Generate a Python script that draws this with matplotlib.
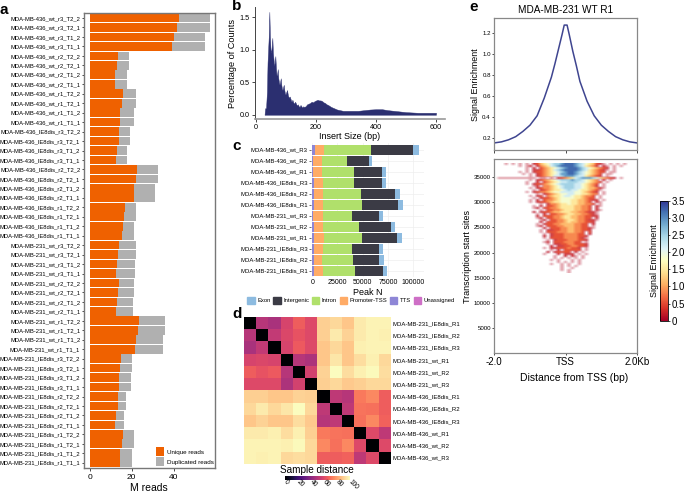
import numpy as np
import matplotlib
matplotlib.use('Agg')
import matplotlib.pyplot as plt
from matplotlib.patches import Patch

plt.rcParams['font.family'] = ['Liberation Sans', 'DejaVu Sans']
W, H = 685, 493

# ---- panel a
a_labels = []
for line, cond in [('436', 'wt'), ('436', 'IE8dis'), ('231', 'wt'), ('231', 'IE8dis')]:
    for rep in ['r3', 'r2', 'r1']:
        for t in ['T2_2', 'T2_1', 'T1_2', 'T1_1']:
            a_labels.append(f'MDA-MB-{line}_{cond}_{rep}_{t}')
unique_reads = [42.6, 41.5, 39.9, 39.4, 13.3, 13.0, 12.3, 12.2, 15.8, 15.3, 14.6, 14.4,
                14.1, 13.8, 13.0, 12.8, 22.6, 22.2, 21.0, 20.9, 16.9, 16.5, 15.8, 15.5,
                13.9, 13.6, 13.0, 12.7, 13.9, 13.6, 13.0, 12.7, 23.6, 22.8, 22.2, 21.5,
                15.0, 14.6, 14.2, 14.1, 13.6, 13.3, 12.7, 12.3, 15.8, 15.3, 14.7, 14.4]
total_reads = [57.0, 57.0, 54.7, 54.7, 18.8, 18.8, 17.9, 17.9, 22.2, 22.2, 21.0, 21.0,
               19.0, 19.0, 17.9, 17.9, 32.3, 32.3, 31.0, 31.0, 22.2, 22.2, 21.2, 21.2,
               22.2, 22.2, 21.5, 21.5, 21.0, 21.0, 20.6, 20.6, 36.0, 36.0, 35.1, 35.1,
               20.4, 20.4, 19.8, 19.8, 17.4, 17.4, 16.5, 16.5, 20.9, 20.9, 20.1, 20.1]

# ---- panel b
insert_x = [28, 30, 33, 36, 38, 40, 42, 44, 46, 48, 50, 52, 54, 56, 58, 60, 62, 64, 66, 68, 70, 72, 74, 76, 78,
            80, 82, 84, 86, 88, 90, 92, 94, 96, 98, 100, 103, 106, 109, 112, 115, 118, 121, 124, 127, 130,
            133, 136, 139, 142, 145, 148, 151, 154, 157, 160, 165, 170, 175, 180, 185, 190, 195, 200, 205,
            210, 215, 220, 225, 230, 235, 240, 250, 260, 270, 280, 290, 300, 320, 340, 360, 380, 400, 420,
            440, 460, 480, 500, 520, 540, 560, 580, 600]
insert_y = [0.0, 0.10, 0.10, 0.35, 0.80, 1.00, 1.20, 1.58, 1.20, 1.00, 0.95, 1.05, 1.18, 0.95, 0.85, 0.75, 0.80,
            0.90, 0.72, 0.60, 0.62, 0.70, 0.56, 0.50, 0.46, 0.50, 0.56, 0.46, 0.40, 0.38, 0.42, 0.46, 0.38, 0.33,
            0.31, 0.34, 0.38, 0.30, 0.26, 0.28, 0.24, 0.20, 0.23, 0.19, 0.17, 0.20, 0.17, 0.14, 0.16, 0.13, 0.12,
            0.15, 0.13, 0.11, 0.13, 0.12, 0.13, 0.16, 0.17, 0.18, 0.20, 0.19, 0.21, 0.22, 0.23, 0.22, 0.22, 0.21,
            0.19, 0.18, 0.16, 0.15, 0.12, 0.10, 0.08, 0.07, 0.06, 0.06, 0.06, 0.06, 0.07, 0.08, 0.085, 0.085,
            0.07, 0.06, 0.05, 0.04, 0.035, 0.03, 0.03, 0.03, 0.03]

# ---- panel c
c_labels = ['MDA-MB-436_wt_R3', 'MDA-MB-436_wt_R2', 'MDA-MB-436_wt_R1', 'MDA-MB-436_IE8dis_R3',
            'MDA-MB-436_IE8dis_R2', 'MDA-MB-436_IE8dis_R1', 'MDA-MB-231_wt_R3', 'MDA-MB-231_wt_R2',
            'MDA-MB-231_wt_R1', 'MDA-MB-231_IE8dis_R3', 'MDA-MB-231_IE8dis_R2', 'MDA-MB-231_IE8dis_R1']
c_unassigned = [150, 100, 100, 100, 100, 100, 100, 100, 100, 100, 100, 100]
c_tts = [2500, 1000, 1000, 1300, 1600, 1600, 1000, 1300, 2000, 1300, 1300, 1300]
c_promoter = [8950, 8500, 8800, 8900, 9200, 9200, 9200, 9500, 9150, 8900, 8500, 8900]
c_intron = [46400, 24500, 31100, 31100, 37400, 38700, 29400, 35400, 38350, 29400, 30500, 31700]
c_intergenic = [42300, 21900, 28200, 28100, 34100, 35400, 26200, 31800, 34100, 26500, 26100, 27800]
c_exon = [5300, 3200, 4000, 4000, 4600, 4700, 3900, 4300, 5000, 4000, 4300, 4700]
c_series = [('Unassigned', c_unassigned, '#CE6FC6'), ('TTS', c_tts, '#8E86D6'),
            ('Promoter-TSS', c_promoter, '#FFAB66'), ('Intron', c_intron, '#B0E06B'),
            ('Intergenic', c_intergenic, '#3B3B45'), ('Exon', c_exon, '#8DBBE0')]
c_legend_order = ['Exon', 'Intergenic', 'Intron', 'Promoter-TSS', 'TTS', 'Unassigned']

# ---- panel d
d_labels = ['MDA-MB-231_IE8dis_R1', 'MDA-MB-231_IE8dis_R2', 'MDA-MB-231_IE8dis_R3',
            'MDA-MB-231_wt_R1', 'MDA-MB-231_wt_R2', 'MDA-MB-231_wt_R3',
            'MDA-MB-436_IE8dis_R1', 'MDA-MB-436_IE8dis_R2', 'MDA-MB-436_IE8dis_R3',
            'MDA-MB-436_wt_R1', 'MDA-MB-436_wt_R2', 'MDA-MB-436_wt_R3']
d_matrix = [[0, 50, 47, 58, 66, 60, 90, 92, 88, 96, 98, 98],
            [50, 0, 53, 59, 63, 60, 90, 96, 91, 96, 98, 97],
            [47, 53, 0, 58, 65, 60, 88, 92, 88, 97, 98, 98],
            [58, 59, 58, 0, 50, 48, 88, 95, 88, 93, 97, 92],
            [66, 63, 65, 50, 0, 57, 91, 100, 93, 97, 99, 93],
            [60, 60, 60, 48, 57, 0, 90, 92, 89, 90, 92, 92],
            [90, 90, 88, 88, 91, 90, 0, 52, 50, 72, 75, 66],
            [92, 96, 92, 95, 100, 92, 52, 0, 52, 71, 70, 66],
            [88, 91, 88, 88, 93, 89, 50, 52, 0, 70, 75, 67],
            [96, 96, 97, 93, 97, 90, 72, 71, 70, 0, 60, 52],
            [98, 98, 98, 97, 99, 92, 75, 70, 75, 60, 0, 60],
            [98, 97, 98, 92, 93, 92, 66, 66, 67, 52, 60, 0]]

# ---- panel e
profile_x = [-2.0, -1.8, -1.6, -1.4, -1.2, -1.0, -0.8, -0.6, -0.4, -0.3, -0.2, -0.1, -0.04, 0.04,
             0.1, 0.2, 0.3, 0.4, 0.6, 0.8, 1.0, 1.2, 1.4, 1.6, 1.8, 2.0]
profile_y = [0.15, 0.16, 0.18, 0.21, 0.26, 0.32, 0.41, 0.58, 0.78, 0.91, 1.05, 1.19, 1.28, 1.28,
             1.19, 1.03, 0.89, 0.74, 0.55, 0.41, 0.32, 0.26, 0.21, 0.18, 0.16, 0.15]
# heat rows, top to bottom; '.' = no signal, 1..9, A, B = rising signal level
heat_rows = [
 "1.1.1.1.23567899ABBBA98765321.1.1.1",
 "..1.12.245689ABBBBA986542.21.1.1",
 "..1.2.3456789ABBBA98765432.1",
 "...1.22345689ABBBBA98654321.1.",
 "1.1.233456789ABBA98765433.11",
 "1.1.2345678AABBA9876543.11",
 "..1.23456889AAA98865432.1",
 "11111111111.11.1.2345689AAA9865432.1....",
 "..1.2345678999A9987654.2.1",
 "1..2.34567889998876543.1",
 "1.2334567899998876543.1",
 "..12.4456789998876542.1",
 "1.23445678999887655421",
 ".1.234566789887665431",
 "1.2344567788887765432.1",
 "..1.2345677887766544.1",
 "1.23.45667887665443.1",
 ".1.2334567777665433.1",
 "1.2.3445677766554322.1",
 "1.2334566777665543.21",
 "..1.24456676655443.1",
 "1.2.3345666655443.21",
 "12.33445666655443.2",
 "..1.3344566655443.21",
 "2.23345566655443221",
 "1.2.33445665544321",
 "2.3334456655443322",
 "12.3344566554433.2",
 ".12.33445665443221",
 "2.33344565544332",
 "1.2334455554433.2",
 "12.333445554433.1",
 ".2.3334455443321",
 "1.2233445544332",
 "1.33344455443.3",
 ".1.2333444433.2",
 "2.23334444332",
 "1.33334444321",
 ".1.2333444332",
 "12.33344433.1",
 "1.2233443332",
 ".2.223344332",
 "1.223334332.1",
 ".1.2.33333.1",
 "2.23333.2.1",
 "1...2.222.1.1",
 "..1..2.21.1.",
 "..1.1.1.1.1",
 "1.1...1.1",
 "..1.1.1.1",
 "1..1.1..1",
 "..1.1.1",
 ".1..1.",
 "1.1",
 ".1",
]
heat_levels = {'1': 0.15, '2': 0.25, '3': 0.55, '4': 0.85, '5': 1.15, '6': 1.5, '7': 1.85, '8': 2.2,
               '9': 2.5, 'A': 2.9, 'B': 3.2}
heat_alpha = {'1': 0.4, '2': 0.85}
heat_top, heat_bottom = 37700, 15900


def box(x0, y0, x1, y1):
    return fig.add_axes([x0 / W, 1 - y1 / H, (x1 - x0) / W, (y1 - y0) / H])


fig = plt.figure(figsize=(6.85, 4.93), dpi=100)
for s, px, py in [('a', 0, 10), ('b', 232, 6), ('c', 232, 146), ('d', 232, 314), ('e', 469, 7)]:
    fig.text(px / W, 1 - py / H, s, fontsize=11, fontweight='bold', va='center')

# a
ax = box(83.5, 13.3, 215, 467.5)
n = len(a_labels)
y = np.arange(n)
unique_reads = np.array(unique_reads)
dup = np.array(total_reads) - unique_reads
ax.barh(y, unique_reads, height=0.92, color='#EF6100', label='Unique reads')
ax.barh(y, dup, left=unique_reads, height=0.92, color='#B0B0B0', label='Duplicated reads')
ax.set_ylim(n - 0.5, -0.5)
ax.set_xlim(-2.85, 59.6)
ax.set_yticks(y, a_labels, fontsize=4.25)
ax.set_xticks([0, 20, 40])
ax.tick_params(axis='x', labelsize=6, length=2, width=0.5, pad=3)
ax.tick_params(axis='y', length=1.5, width=0.5, pad=0.8)
ax.set_xlabel('M reads', fontsize=7.5, labelpad=1)
for sp in ax.spines.values():
    sp.set_color('#777777')
    sp.set_linewidth(1.0)
ax.legend(loc='lower right', frameon=False, fontsize=4.5, handlelength=1.4, handleheight=1.9,
          handletextpad=0.4, labelspacing=0.1, borderaxespad=0.1, borderpad=0.1)

# b
ax = box(254.5, 6.7, 445, 119.3)
ax.fill_between(insert_x, insert_y, 0, color='#2B2F70', lw=0.3)
ax.set_xlim(-5.5, 630)
ax.set_ylim(-0.07, 1.66)
ax.set_xticks([0, 200, 400, 600])
ax.set_yticks([0, 0.5, 1.0, 1.5], ['0.0', '0.5', '1.0', '1.5'])
ax.tick_params(labelsize=5.2, length=2, width=0.5, pad=1.5)
ax.set_xlabel('Insert Size (bp)', fontsize=6.5, labelpad=0.5)
ax.set_ylabel('Percentage of Counts', fontsize=6.6, labelpad=1.5)
for k in ['top', 'right']:
    ax.spines[k].set_visible(False)
ax.spines['left'].set_linewidth(0.7)
ax.spines['left'].set_color('#444444')
ax.spines['bottom'].set_linewidth(1.2)
ax.spines['bottom'].set_color('#999999')

# c
ax = box(311, 143, 424, 276.7)
yc = np.arange(len(c_labels))
left = np.zeros(len(c_labels))
for name, vals, col in c_series:
    ax.barh(yc, vals, left=left, height=0.9, color=col, label=name)
    left += np.array(vals)
ax.set_ylim(len(c_labels) - 0.45, -0.62)
ax.set_xlim(-1300, 110900)
ax.set_yticks(yc, c_labels, fontsize=4.3)
ax.set_xticks([0, 25000, 50000, 75000, 100000])
ax.tick_params(axis='x', labelsize=5, length=0, pad=1.5)
ax.tick_params(axis='y', length=1.3, width=0.4, pad=1)
ax.grid(color='#EEEEEE', lw=0.5)
ax.set_axisbelow(True)
for sp in ax.spines.values():
    sp.set_visible(False)
ax.set_xlabel('Peak N', fontsize=6.5, labelpad=1.5)
colors = {nm: col for nm, _, col in c_series}
fig.legend(handles=[Patch(color=colors[nm], label=nm) for nm in c_legend_order],
           loc='center', bbox_to_anchor=(351 / W, 1 - 300.5 / H), ncol=6, frameon=False, fontsize=4.2,
           handlelength=1.3, handleheight=1.4, handletextpad=0.35, columnspacing=0.5, borderpad=0)

# d
ax = box(244.3, 317.3, 390.7, 463.7)
im = ax.imshow(np.array(d_matrix), cmap='magma', vmin=0, vmax=100, aspect='auto')
ax.set_xticks([])
ax.yaxis.tick_right()
ax.set_yticks(np.arange(len(d_labels)), d_labels, fontsize=4.3)
ax.tick_params(axis='y', length=0, pad=1.5)
for sp in ax.spines.values():
    sp.set_visible(False)
fig.text(316.5 / W, 1 - 470 / H, 'Sample distance', fontsize=7.2, ha='center', va='center')
cax = box(285, 476, 350, 480)
cb = fig.colorbar(im, cax=cax, orientation='horizontal')
cb.set_ticks([0, 20, 40, 60, 80, 100])
cb.outline.set_visible(False)
cax.tick_params(labelsize=4.8, length=0, pad=0.5)
for t in cax.get_xticklabels():
    t.set_rotation(-45)
    t.set_rotation_mode('anchor')
    t.set_ha('left')
    t.set_va('center')

# e top
ax = box(494.3, 18.3, 637, 150)
ax.plot(profile_x, profile_y, color='#3F4590', lw=1.1)
ax.set_xlim(-2, 2)
ax.set_ylim(0.082, 1.345)
ax.set_xticks([-2, 0, 2], ['', '', ''])
ax.set_yticks([0.2, 0.4, 0.6, 0.8, 1.0, 1.2])
ax.tick_params(axis='y', labelsize=4.4, length=1.5, width=0.5, pad=1)
ax.tick_params(axis='x', length=2, width=0.5)
ax.set_ylabel('Signal Enrichment', fontsize=6.4, labelpad=1.5)
ax.set_title('MDA-MB-231 WT R1', fontsize=7.2, pad=3.5)
for sp in ax.spines.values():
    sp.set_color('#888888')
    sp.set_linewidth(0.9)

# e heat
ax = box(494.3, 159.3, 637, 353.3)
ncol = 41
grid = np.zeros((len(heat_rows), ncol))
alpha = np.zeros_like(grid)
for i, r in enumerate(heat_rows):
    for j, ch in enumerate(r.center(ncol, '.')):
        if ch in heat_levels:
            grid[i, j] = heat_levels[ch]
            alpha[i, j] = heat_alpha.get(ch, 1.0)
rgba = plt.get_cmap('RdYlBu')(plt.Normalize(0, 3.5)(grid))
rgba[..., 3] = alpha
ax.imshow(rgba, aspect='auto', extent=[-2, 2, heat_bottom, heat_top], interpolation='bilinear')
ax.set_xlim(-2, 2)
ax.set_ylim(0, 38500)
ax.set_xticks([-2, 0, 2], ['-2.0', 'TSS', '2.0Kb'])
ax.set_yticks([5000, 10000, 15000, 20000, 25000, 30000, 35000])
ax.tick_params(axis='y', labelsize=4.4, length=1.5, width=0.5, pad=1)
ax.tick_params(axis='x', labelsize=7, length=1.5, width=0.5, pad=1.5)
ax.set_ylabel('Transcription start sites', fontsize=6.5, labelpad=1.5)
fig.text(574 / W, 1 - 378 / H, 'Distance from TSS (bp)', fontsize=7.45, ha='center', va='center')
for sp in ax.spines.values():
    sp.set_color('#888888')
    sp.set_linewidth(0.9)

cax = box(660, 200.7, 668, 320.7)
sm = plt.cm.ScalarMappable(norm=plt.Normalize(0, 3.5), cmap='RdYlBu')
cb = fig.colorbar(sm, cax=cax)
cb.set_ticks([0, 0.5, 1, 1.5, 2, 2.5, 3, 3.5], labels=['0', '0.5', '1.0', '1.5', '2.0', '2.5', '3.0', '3.5'])
cax.tick_params(labelsize=7, length=1.5, width=0.5, pad=1)
cb.outline.set_linewidth(0.6)
cax.yaxis.set_label_position('left')
cb.set_label('Signal Enrichment', fontsize=6.4, labelpad=1)

fig.savefig('out.png', dpi=100)
